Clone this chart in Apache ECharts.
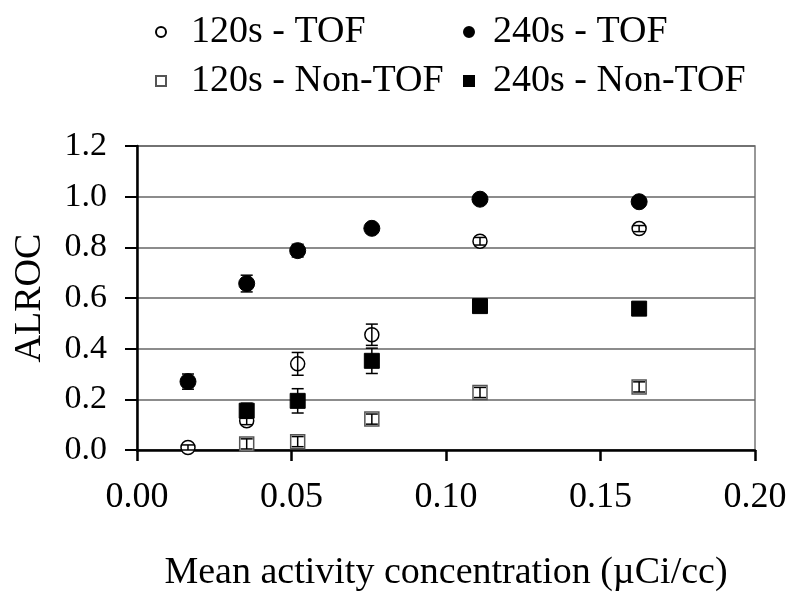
<!DOCTYPE html>
<html>
<head>
<meta charset="utf-8">
<script src="https://cdn.jsdelivr.net/npm/echarts@6/dist/echarts.min.js"></script>
<style>html,body{margin:0;padding:0;background:#fff;}#chart{width:800px;height:597px;}</style>
</head>
<body>
<div id="chart"></div>
<script>
const xValues = [0.0165, 0.0355, 0.052, 0.076, 0.111, 0.1625];
const tof120 = [0.01, 0.115, 0.34, 0.455, 0.824, 0.874];
const tof120Err = [0.01, 0.015, 0.045, 0.042, 0.015, 0.012];
const tof240 = [0.27, 0.657, 0.787, 0.875, 0.99, 0.98];
const tof240Err = [0.03, 0.033, 0.025, 0.01, 0.01, 0.01];
const nontof120 = [null, 0.024, 0.033, 0.122, 0.227, 0.249];
const nontof120Err = [null, 0.02, 0.02, 0.02, 0.02, 0.02];
const nontof240 = [null, 0.155, 0.194, 0.352, 0.568, 0.558];
const nontof240Err = [null, 0.03, 0.048, 0.05, 0.02, 0.025];
const seriesNames = ['120s - TOF', '240s - TOF', '120s - Non-TOF', '240s - Non-TOF'];
const xTicks = [0, 0.05, 0.10, 0.15, 0.20];
const yTicks = [0, 0.2, 0.4, 0.6, 0.8, 1.0, 1.2];

const FONT = 'Liberation Serif';

function pts(vals) {
  const out = [];
  vals.forEach((v, i) => { if (v !== null) out.push([xValues[i], v]); });
  return out;
}
function errs(vals, e) {
  const out = [];
  vals.forEach((v, i) => { if (v !== null) out.push([xValues[i], v - e[i], v + e[i]]); });
  return out;
}
function errorSeries(vals, e, z) {
  return {
    type: 'custom',
    z: z,
    silent: true,
    data: errs(vals, e),
    renderItem: function (params, api) {
      const x = api.value(0);
      const top = api.coord([x, api.value(2)]);
      const bot = api.coord([x, api.value(1)]);
      const hw = 6;
      const st = { stroke: '#000', lineWidth: 1.5 };
      return {
        type: 'group',
        children: [
          { type: 'line', shape: { x1: top[0], y1: top[1], x2: bot[0], y2: bot[1] }, style: st },
          { type: 'line', shape: { x1: top[0] - hw, y1: top[1], x2: top[0] + hw, y2: top[1] }, style: st },
          { type: 'line', shape: { x1: bot[0] - hw, y1: bot[1], x2: bot[0] + hw, y2: bot[1] }, style: st }
        ]
      };
    }
  };
}

const chart = echarts.init(document.getElementById('chart'));
function legendItem(name, left, top, gap) {
  return {
    data: [name], left: left, top: top,
    itemWidth: 10, itemHeight: 10,
    textStyle: { fontFamily: FONT, fontSize: 38, color: '#000', padding: [0, 0, 0, gap] },
    selectedMode: false
  };
}
chart.setOption({
  backgroundColor: '#fff',
  animation: false,
  legend: [
    legendItem(seriesNames[0], 150, 8, 20),
    legendItem(seriesNames[1], 458, 8, 14),
    legendItem(seriesNames[2], 150, 57, 20),
    legendItem(seriesNames[3], 458, 57, 14)
  ],
  grid: { left: 137, right: 45, top: 146, bottom: 146, show: true, borderColor: '#777', borderWidth: 1.5 },
  xAxis: {
    type: 'value', min: 0, max: 0.2, interval: 0.05,
    name: 'Mean activity concentration (\u00b5Ci/cc)',
    nameLocation: 'middle', nameGap: 104,
    nameTextStyle: { fontFamily: FONT, fontSize: 38, color: '#000' },
    axisLine: { show: true, lineStyle: { color: '#000', width: 2.5 } },
    axisTick: { show: true, length: 11, lineStyle: { color: '#000', width: 2.5 } },
    axisLabel: { fontFamily: FONT, fontSize: 36, color: '#000', margin: 30,
      formatter: v => v.toFixed(2) },
    splitLine: { show: false }
  },
  yAxis: {
    type: 'value', min: 0, max: 1.2, interval: 0.2,
    name: 'ALROC', nameLocation: 'middle', nameGap: 88,
    nameTextStyle: { fontFamily: FONT, fontSize: 38, color: '#000' },
    axisLine: { show: true, lineStyle: { color: '#000', width: 2.5 } },
    axisTick: { show: true, length: 12, lineStyle: { color: '#000', width: 2 } },
    axisLabel: { fontFamily: FONT, fontSize: 34, color: '#000', margin: 30,
      formatter: v => v.toFixed(1) },
    splitLine: { show: true, lineStyle: { color: '#666', width: 1.5 } }
  },
  series: [
    { name: seriesNames[0], type: 'scatter', data: pts(tof120), symbol: 'circle', symbolSize: 14, z: 3,
      itemStyle: { color: '#fff', borderColor: '#000', borderWidth: 1.5, opacity: 1 } },
    { name: seriesNames[1], type: 'scatter', data: pts(tof240), symbol: 'circle', symbolSize: 16, z: 3,
      itemStyle: { color: '#000', borderColor: '#000', borderWidth: 1, opacity: 1 } },
    { name: seriesNames[2], type: 'scatter', data: pts(nontof120), symbol: 'rect', symbolSize: 14, z: 3,
      itemStyle: { color: '#fff', borderColor: '#555', borderWidth: 1.5, opacity: 1 } },
    { name: seriesNames[3], type: 'scatter', data: pts(nontof240), symbol: 'rect', symbolSize: 15, z: 3,
      itemStyle: { color: '#000', borderColor: '#000', borderWidth: 1, opacity: 1 } },
    errorSeries(tof120, tof120Err, 5),
    errorSeries(tof240, tof240Err, 5),
    errorSeries(nontof120, nontof120Err, 5),
    errorSeries(nontof240, nontof240Err, 5)
  ]
});
</script>
</body>
</html>
